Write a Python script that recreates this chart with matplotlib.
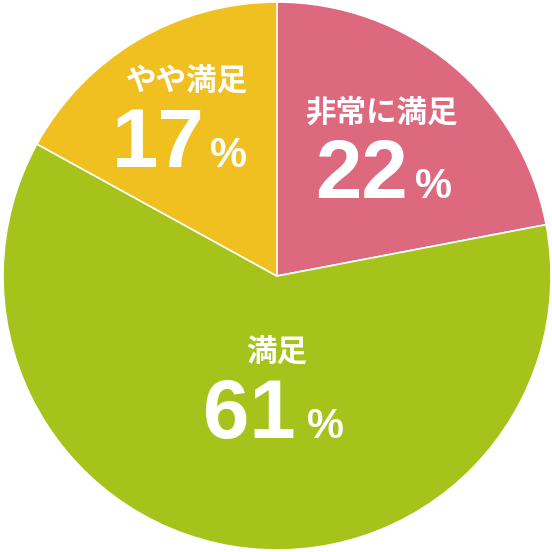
import matplotlib
matplotlib.use('Agg')
import matplotlib.pyplot as plt

labels = ['非常に満足', '満足', 'やや満足']
values = [22, 61, 17]
colors = ['#DD697E', '#A5C31B', '#F0BF20']

# label anchors in image pixels (x, y from top): name centre, number centre, % left, baseline
name_pos = [(381, 113), (277, 353), (187, 82)]
num_pos = [(362, 198), (249, 438), (158, 167)]
pct_pos = [(415, 198), (307, 438), (210, 167)]

W = 552

fig = plt.figure(figsize=(5.52, 5.52), dpi=100)
ax = fig.add_axes([0, 0, 1, 1])

ax.pie(values, colors=colors, startangle=90, counterclock=False,
       center=(277, W - 276), radius=274,
       wedgeprops=dict(edgecolor='white', linewidth=1.2))

# pie() resets the limits, so set them afterwards
ax.set_xlim(0, W)
ax.set_ylim(0, W)
ax.set_aspect('equal')
ax.axis('off')

jp = ['Noto Sans CJK JP', 'DejaVu Sans']
num_font = ['Liberation Sans', 'DejaVu Sans']
for lab, v, npos, vpos, ppos in zip(labels, values, name_pos, num_pos, pct_pos):
  ax.text(npos[0], W - npos[1], lab, ha='center', va='center', color='white',
          fontsize=22, fontweight='bold', family=jp)
  ax.text(vpos[0], W - vpos[1], str(v), ha='center', va='baseline', color='white',
          fontsize=60, fontweight='bold', family=num_font)
  ax.text(ppos[0], W - ppos[1], '%', ha='left', va='baseline', color='white',
          fontsize=30, fontweight='bold', family=num_font)

fig.savefig('out.png', dpi=100)
